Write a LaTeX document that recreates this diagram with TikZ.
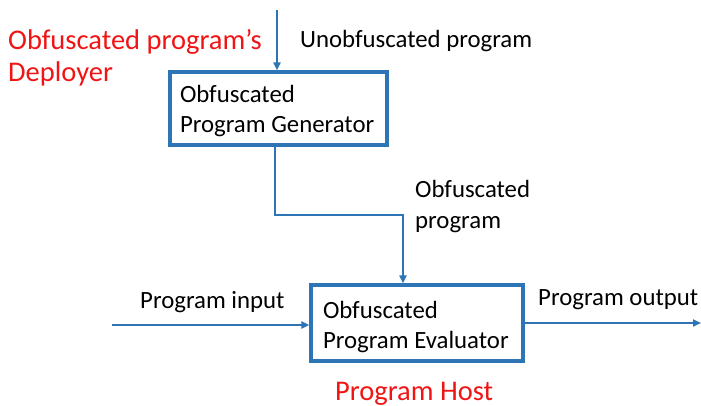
\documentclass[tikz,border=0pt]{standalone}
\usepackage{fontspec}
\setmainfont{Carlito}
\usetikzlibrary{arrows.meta}
\definecolor{lineblue}{RGB}{46,117,182}
\definecolor{labelred}{RGB}{240,20,20}
\begin{document}
\begin{tikzpicture}[x=1pt,y=-1pt,
  procbox/.style={draw=lineblue,line width=3.2pt,inner xsep=10pt,inner ysep=0pt,
    align=flush left,font=\fontsize{24.8}{30}\selectfont},
  conn/.style={draw=lineblue,line width=2pt,-{Triangle[length=8pt,width=7pt]}},
  lbl/.style={anchor=base west,inner sep=0pt,align=flush left,font=\fontsize{24.8}{31}\selectfont},
  redlbl/.style={anchor=base west,inner sep=0pt,align=flush left,text=labelred,font=\fontsize{28.5}{32}\selectfont}]
\useasboundingbox (0,0) rectangle (701,406);
% boxes
\node[procbox,text width=197pt,minimum height=73pt] (gen) at (278.5,108.5) {\rule{0pt}{22pt}Obfuscated\\Program Generator};
\node[procbox,inner xsep=12pt,text width=188pt,minimum height=76pt] (eval) at (417,323) {\rule{0pt}{26pt}Obfuscated\\Program Evaluator};
% free ends
\coordinate (topin) at (277,10);
\coordinate (genout) at (275,145);
\coordinate (bend) at (403,215);
\coordinate (progin) at (112,325);
\coordinate (progout) at (701,323);
% connectors
\draw[conn] (topin) -- (topin |- gen.north);
\draw[conn] (genout) |- (bend) -- (bend |- eval.north);
\draw[conn] (progin) -- (progin -| eval.west);
\draw[conn] (progout -| eval.east) -- (progout);
% labels
\node[lbl] (unob) at (300,48) {Unobfuscated program};
\node[lbl] (obprog) at (415,228) {Obfuscated\\program};
\node[lbl] (pin) at (140,308) {Program input};
\node[lbl] (pout) at (538,305) {Program output};
\node[redlbl] (deployer) at (8,82) {Obfuscated program’s\\Deployer};
\node[redlbl] (host) at (335,400) {Program Host};
\end{tikzpicture}
\end{document}
